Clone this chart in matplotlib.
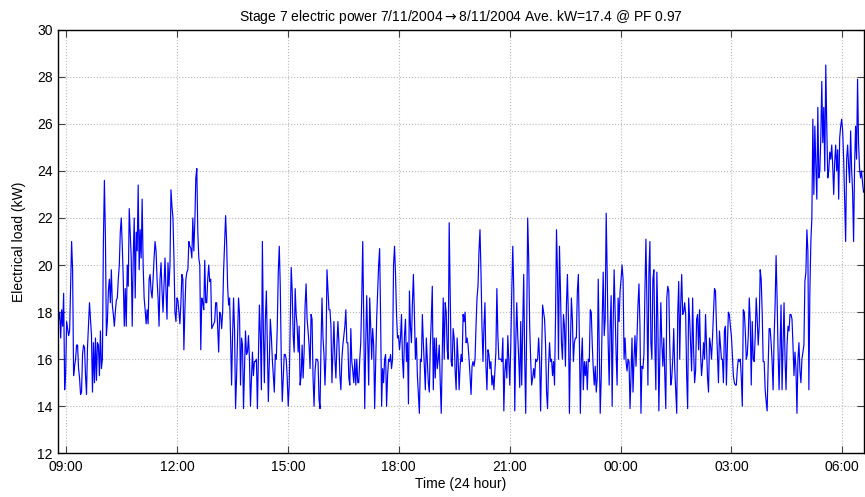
import numpy as np
import pandas as pd
import matplotlib
matplotlib.use("Agg")
import matplotlib.pyplot as plt
import matplotlib.dates as mdates

plt.rcParams['font.family'] = ['Liberation Sans', 'DejaVu Sans']

# electrical load in kW, split by time of day
kw_0846 = [17.4, 17.7, 18.0, 16.9, 18.1, 17.4, 18.8, 14.7, 15.4, 17.6, 17.3, 17.0, 17.2, 19.1, 21.0, 19.8,
           15.3, 15.7, 16.0, 16.6, 16.6, 15.6, 15.2, 14.5, 14.6, 16.2, 16.6, 16.5, 15.3, 14.5, 16.5, 17.4,
           18.4, 17.7, 17.0, 14.6, 16.7, 15.0, 16.9, 15.1, 16.7, 16.6, 15.3, 17.2, 15.6, 16.0, 21.0, 23.6,
           21.3, 17.0, 17.6, 18.9, 19.4, 18.4, 19.8, 18.3, 17.9, 17.4, 18.0, 18.5, 18.6, 19.4, 20.0, 21.4,
           22.0, 20.8, 19.4, 17.4]
kw_1036 = [19.0, 17.4, 20.0, 19.1, 22.4, 21.4, 20.3, 17.4, 20.3, 22.0, 18.6, 21.4, 20.6, 23.4, 19.8, 21.5,
           20.3, 22.8, 20.0, 18.6, 18.1, 17.5, 18.1, 17.5, 19.4, 19.6, 18.9, 18.6, 19.4, 20.3, 21.0, 20.6,
           19.4, 18.6, 17.4, 19.4, 20.1, 18.9, 18.0, 19.1, 20.3, 18.9, 17.7, 20.1, 19.1, 20.0, 23.2, 22.5,
           22.0, 20.3, 18.0, 17.6, 18.6, 18.5, 18.0, 17.5, 18.4, 19.6, 19.4, 16.4, 18.1, 19.4, 19.7, 19.8,
           21.0, 20.8, 20.7, 20.3, 22.0, 20.6, 21.8, 23.7, 24.1]
kw_1237 = [21.4, 20.3, 20.0, 16.4, 18.6, 18.4, 18.1, 20.2, 18.4, 18.4, 19.4, 20.0, 19.3, 19.4, 17.3, 17.4,
           17.5, 17.6, 18.4, 18.4, 17.4, 16.3, 18.0, 17.9, 17.3, 18.0, 19.8, 21.0, 22.1, 21.0, 19.1, 18.3,
           18.6, 16.9, 14.9, 17.0, 18.6, 17.2, 13.9, 15.2, 16.9, 18.6, 17.9, 14.9, 16.9, 16.6, 13.9, 15.5,
           17.2, 16.2, 16.3, 17.0, 16.0, 14.0, 15.2, 16.3, 15.3, 15.9, 15.9, 16.0, 13.9, 16.0, 18.3, 17.0,
           14.7, 21.0, 17.2, 15.0, 17.7, 18.9, 16.6, 14.2, 16.0, 17.7, 17.0]
kw_1439 = [16.0, 15.3, 14.6, 16.2, 16.0, 17.4, 19.7, 20.8, 19.1, 16.0, 14.2, 15.2, 16.2, 16.2, 16.0, 15.2,
           14.0, 14.9, 17.4, 19.9, 18.9, 17.0, 16.3, 19.0, 17.9, 17.4, 16.3, 17.4, 14.9, 15.3, 16.6, 15.2,
           16.3, 18.3, 19.2, 17.7, 17.2, 16.6, 15.6, 17.9, 17.7, 15.2, 14.0, 15.5, 16.0, 16.0, 15.9, 14.3,
           13.9, 16.6, 18.6, 16.9, 16.2, 14.9, 16.2, 19.8, 18.9, 18.1, 18.1, 17.4, 15.0, 16.3, 17.6, 16.0,
           15.2, 16.6, 17.6, 16.7, 15.3, 14.7, 16.0, 16.6, 17.0, 17.4, 18.1, 16.7]
kw_1641 = [16.7, 15.2, 14.9, 17.3, 15.9, 15.5, 15.0, 16.0, 14.9, 16.0, 15.0, 15.0, 16.0, 16.7, 18.6, 21.0,
           17.7, 13.9, 16.6, 18.7, 16.7, 14.9, 18.6, 17.4, 16.0, 17.3, 16.6, 13.9, 15.9, 17.7, 18.9, 20.0,
           20.7, 17.7, 14.0, 15.6, 15.0, 16.0, 16.2, 14.0, 15.3, 16.0, 15.9, 16.2, 15.6, 16.0, 20.0, 20.8,
           19.6, 17.9, 16.9, 17.0, 16.4, 16.9, 17.9, 16.0, 15.2, 17.0, 17.7, 15.9, 16.7, 14.1, 18.9, 17.4,
           16.7, 18.4, 19.6, 17.9, 16.0, 16.9, 15.3, 14.5, 13.7, 16.0, 15.9]
kw_1843 = [17.9, 16.7, 15.7, 14.7, 16.9, 16.0, 15.0, 14.6, 16.6, 17.7, 19.1, 14.7, 16.9, 15.2, 16.9, 15.6,
           16.0, 16.6, 15.0, 13.7, 16.2, 18.6, 16.0, 18.4, 18.0, 16.4, 16.0, 21.8, 18.9, 15.9, 15.7, 17.3,
           16.9, 15.5, 14.7, 16.9, 16.0, 14.7, 15.7, 16.2, 15.9, 17.9, 17.6, 18.0, 16.7, 16.9, 16.6, 16.0,
           15.3, 14.5, 15.7, 15.9, 15.7, 16.0, 17.4, 18.6, 19.1, 20.6, 21.5, 19.7, 17.4, 15.9, 17.4, 18.4,
           15.7, 14.7, 16.4, 16.2, 15.6, 15.9, 14.9, 15.3, 14.7, 15.5, 16.3, 19.0]
kw_2044 = [17.0, 16.0, 16.0, 16.0, 15.9, 16.9, 13.8, 15.5, 16.0, 15.2, 17.0, 16.0, 14.9, 16.6, 18.9, 20.8,
           18.9, 13.8, 16.7, 18.4, 17.0, 16.0, 14.8, 17.6, 14.9, 17.4, 19.6, 16.0, 13.7, 17.4, 22.0, 20.3,
           17.4, 16.0, 14.9, 15.2, 15.6, 15.2, 16.0, 15.9, 16.0, 16.9, 16.0, 13.8, 16.0, 18.3, 18.0, 17.7,
           16.6, 14.6, 13.9, 15.7, 16.7, 15.9, 16.0, 15.3, 15.9, 14.9, 17.7, 21.5, 19.6, 16.0, 20.8, 18.9,
           16.7, 16.0, 17.9, 17.4, 15.7, 18.3, 19.6, 17.7, 13.7, 16.6, 18.6]
kw_2246 = [17.7, 15.9, 16.7, 16.9, 16.9, 18.9, 19.6, 16.9, 13.7, 16.0, 16.9, 14.7, 15.9, 15.3, 15.9, 14.7,
           16.0, 15.9, 18.1, 18.0, 16.6, 15.6, 14.9, 15.7, 14.6, 15.2, 19.4, 16.6, 13.7, 15.2, 17.7, 19.7,
           17.0, 17.7, 22.2, 19.7, 16.7, 14.9, 17.4, 18.7, 14.0, 17.4, 19.8, 18.0, 16.2, 14.9, 18.6, 17.6,
           18.9, 19.4, 20.0, 19.4, 16.0, 16.9, 15.9, 15.5, 16.0, 15.9, 13.9, 15.3, 16.9, 14.6, 16.0, 17.0,
           15.7, 16.9, 18.3, 19.2, 17.4, 13.7, 15.7, 15.6, 16.2, 18.9, 21.1, 18.4]
kw_0048 = [14.9, 19.7, 21.0, 16.7, 16.0, 19.4, 19.8, 16.6, 14.7, 19.7, 17.7, 13.8, 16.0, 18.4, 16.7, 15.7,
           16.9, 15.3, 13.9, 18.6, 19.1, 18.9, 16.6, 14.9, 15.2, 16.0, 17.3, 15.6, 14.7, 13.7, 17.9, 19.3,
           16.0, 18.3, 19.6, 17.9, 18.0, 18.4, 17.9, 15.3, 13.9, 18.6, 17.7, 16.6, 15.5, 18.6, 16.4, 15.0,
           15.5, 17.7, 17.9, 16.4, 18.1, 16.2, 15.3, 15.9, 16.7, 16.0, 17.9, 16.6, 15.2, 14.6, 16.9, 16.6,
           16.0, 16.9, 18.0, 19.0, 18.9, 17.4, 16.2, 15.0, 17.2, 16.6, 16.0]
kw_0249 = [16.0, 15.0, 17.2, 17.4, 14.9, 16.6, 18.0, 17.9, 17.4, 17.0, 16.2, 15.3, 15.0, 14.9, 14.9, 15.6,
           16.0, 15.9, 16.0, 15.2, 14.0, 18.1, 18.0, 17.2, 16.0, 16.2, 17.0, 18.6, 17.6, 14.9, 17.6, 16.0,
           15.9, 17.0, 18.6, 17.7, 16.6, 17.4, 19.8, 19.4, 18.0, 15.9, 15.9, 14.7, 14.2, 13.8, 15.7, 17.3,
           17.3, 16.7, 15.9, 14.7, 16.9, 18.3, 20.4, 18.6, 16.3, 14.7, 16.6, 18.3, 14.7, 16.6, 18.4, 16.0,
           14.7, 16.6, 17.4, 17.2, 17.9, 17.9]
kw_0443 = [17.7, 16.6, 15.3, 16.3, 15.6, 13.7, 16.0, 16.7, 15.5, 15.0, 16.0, 16.3, 16.6, 19.3, 19.7, 21.5,
           20.6, 14.7, 18.9, 21.0, 22.0, 26.2, 23.0, 25.9, 24.2, 22.8, 26.7, 23.7, 24.0, 25.4, 27.8, 25.2,
           26.7, 24.0, 28.5, 25.9, 23.7, 24.0, 24.8, 24.5, 25.1, 24.2, 23.0, 24.4, 25.1, 24.0, 24.9, 22.8,
           25.4, 25.9, 26.2, 25.7, 24.5, 22.8, 21.0, 24.5, 25.1, 24.2, 23.5, 25.7, 24.1, 23.1, 21.0, 24.2,
           25.9, 24.5, 27.9, 25.2, 24.1, 23.7, 24.0, 23.5, 23.1]

kw = np.concatenate([kw_0846, kw_1036, kw_1237, kw_1439, kw_1641, kw_1843,
                     kw_2044, kw_2246, kw_0048, kw_0249, kw_0443])
t = pd.date_range('2004-11-07 08:46:30', '2004-11-08 06:34:20', periods=len(kw))

fig = plt.figure(figsize=(8.65, 4.97), dpi=100)
ax = fig.add_axes([0.0667, 0.0879, 0.9316, 0.8523])

ax.plot(t, kw, color='#0000ff', lw=0.85)

ax.set_xlim(t[0], t[-1])
ax.set_ylim(12, 30)
ax.set_yticks(np.arange(12, 31, 2))
ax.xaxis.set_major_locator(mdates.HourLocator(byhour=range(0, 24, 3)))
ax.xaxis.set_major_formatter(mdates.DateFormatter('%H:%M'))

ax.grid(True, linestyle=':', color='#b8b8b8', lw=0.8)
ax.tick_params(direction='in', top=True, right=True, length=5, labelsize=10, color='#404040')
ax.tick_params(axis='x', pad=5)
for s in ax.spines.values():
    s.set_linewidth(1.0)

ax.set_xlabel('Time (24 hour)', fontsize=10, labelpad=2)
ax.set_ylabel('Electrical load (kW)', fontsize=10, labelpad=8)
ax.set_title('Stage 7 electric power 7/11/2004$\\rightarrow$8/11/2004 Ave. kW=17.4 @ PF 0.97',
             fontsize=10, pad=6)

fig.savefig('out.png', dpi=100)
